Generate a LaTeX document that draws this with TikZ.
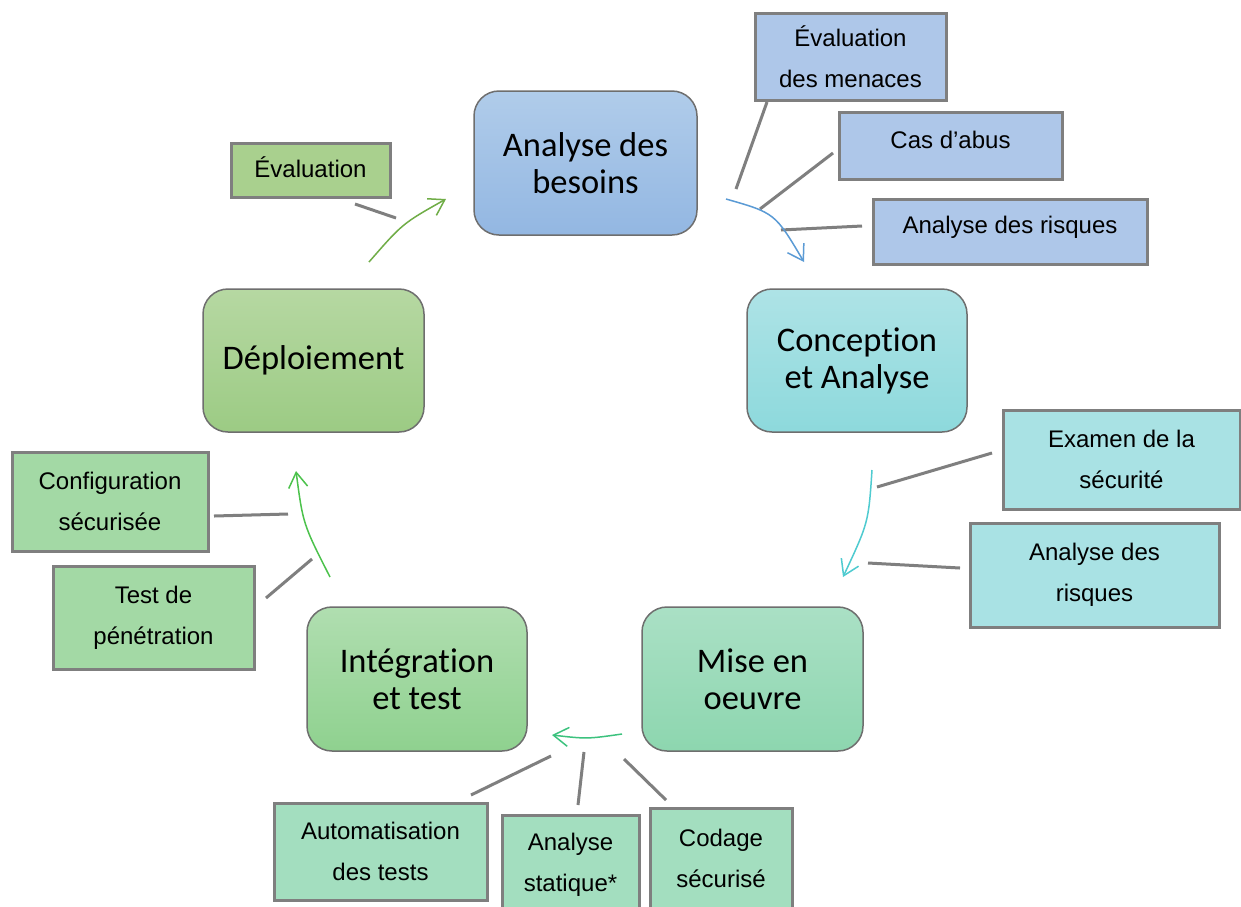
\documentclass[tikz,border=0pt]{standalone}
\usepackage{fontspec}
\setmainfont{Liberation Sans}
\newfontfamily\calib[Ligatures=NoCommon,RawFeature={-liga;-dlig;-clig}]{Carlito}
\usetikzlibrary{arrows.meta}
\definecolor{bordergray}{HTML}{7F7F7F}
\definecolor{mainborder}{HTML}{6E6E6E}
\definecolor{sblue}{HTML}{AEC7E9}
\definecolor{steal}{HTML}{A9E2E4}
\definecolor{smint}{HTML}{A3DEBF}
\definecolor{sgreen}{HTML}{A3D9A5}
\definecolor{sevgreen}{HTML}{A9D08E}
\definecolor{arblue}{HTML}{5B9BD5}
\definecolor{arcyan}{HTML}{4FCBD0}
\definecolor{armint}{HTML}{3CC27E}
\definecolor{argreen}{HTML}{4CC24C}
\definecolor{arlgreen}{HTML}{70AD47}
\tikzset{
  mainbox/.style={draw=mainborder, line width=1.5pt, rounded corners=25pt,
    align=center, inner sep=0pt, font=\calib\fontsize{34.5}{37}\selectfont},
  smallbox/.style={draw=bordergray, line width=3pt, inner sep=0pt,
    align=center, font=\fontsize{24}{41}\selectfont},
  link/.style={draw=bordergray, line width=3pt},
  cyclearrow/.style={line width=1.5pt, -{Straight Barb[length=15pt,width=19pt]}}
}
\begin{document}
\begin{tikzpicture}[x=1pt,y=-1pt]
\useasboundingbox (0,0) rectangle (1241,906);
\clip (0,0) rectangle (1241,906);
\fill[white] (0,0) rectangle (1241,906);

% main boxes
\node[mainbox, top color={rgb,255:red,176;green,204;blue,234}, bottom color={rgb,255:red,147;green,183;blue,226},
  minimum width=223pt, minimum height=144pt] (besoins) at (585.5,163) {Analyse des\\besoins};
\node[mainbox, top color={rgb,255:red,174;green,227;blue,230}, bottom color={rgb,255:red,141;green,217;blue,220},
  minimum width=220pt, minimum height=143pt] (conception) at (857,360.5) {Conception\\et Analyse};
\node[mainbox, top color={rgb,255:red,170;green,224;blue,197}, bottom color={rgb,255:red,141;green,214;blue,175},
  minimum width=221pt, minimum height=144pt] (mise) at (752.5,679) {Mise en\\oeuvre};
\node[mainbox, top color={rgb,255:red,176;green,222;blue,176}, bottom color={rgb,255:red,143;green,209;blue,143},
  minimum width=220pt, minimum height=144pt] (integ) at (417,679) {Intégration\\et test};
\node[mainbox, top color={rgb,255:red,182;green,216;blue,162}, bottom color={rgb,255:red,156;green,203;blue,132},
  minimum width=221pt, minimum height=143pt] (deploi) at (313.5,360.5) {Déploiement};

% small boxes
\node[smallbox, fill=sblue, minimum width=191pt, minimum height=87pt] (menaces) at (850.5,56.5) {Évaluation\\des menaces};
\node[smallbox, fill=sblue, minimum width=223pt, minimum height=67pt, text depth=12pt] (abus) at (950.5,145.5) {Cas d’abus};
\node[smallbox, fill=sblue, minimum width=274pt, minimum height=65pt, text depth=13pt] (risquesA) at (1010,231.5) {Analyse des risques};
\node[smallbox, fill=steal, minimum width=237pt, minimum height=99pt] (examen) at (1121.5,459.5) {Examen de la\\sécurité};
\node[smallbox, fill=steal, minimum width=249pt, minimum height=104pt] (risquesB) at (1094.5,575) {Analyse des\\risques};
\node[smallbox, fill=smint, minimum width=213pt, minimum height=97pt] (auto) at (380.5,851.5) {Automatisation\\des tests};
\node[smallbox, fill=smint, minimum width=137pt, minimum height=100pt] (statique) at (570.5,865) {Analyse\\statique*};
\node[smallbox, fill=smint, minimum width=142pt, minimum height=100pt] (codage) at (721,858) {Codage\\sécurisé};
\node[smallbox, fill=sgreen, minimum width=201pt, minimum height=103pt] (test) at (153.5,617.5) {Test de\\pénétration};
\node[smallbox, fill=sgreen, minimum width=196pt, minimum height=99pt] (config) at (110,501.5) {Configuration\\sécurisée};
\node[smallbox, fill=sevgreen, minimum width=159pt, minimum height=54pt, text depth=6pt] (evalu) at (310.5,170) {Évaluation};

% connector end points
\coordinate (mA) at (736,189); \coordinate (mB) at (767,102);
\coordinate (aA) at (760,209); \coordinate (aB) at (833,153);
\coordinate (rA) at (781,230); \coordinate (rB) at (862,226);
\coordinate (eA) at (877,487); \coordinate (eB) at (992,453);
\coordinate (qA) at (868,563); \coordinate (qB) at (960,568);
\coordinate (cA) at (624,759); \coordinate (cB) at (666,800);
\coordinate (sA) at (584,752); \coordinate (sB) at (578,805);
\coordinate (tA) at (551,756); \coordinate (tB) at (471,795);
\coordinate (pA) at (312,559); \coordinate (pB) at (266,598);
\coordinate (gA) at (288,514); \coordinate (gB) at (214,516);
\coordinate (vA) at (396,218); \coordinate (vB) at (355,204);

\draw[link] (mA) -- (mB);
\draw[link] (aA) -- (aB);
\draw[link] (rA) -- (rB);
\draw[link] (eA) -- (eB);
\draw[link] (qA) -- (qB);
\draw[link] (cA) -- (cB);
\draw[link] (sA) -- (sB);
\draw[link] (tA) -- (tB);
\draw[link] (pA) -- (pB);
\draw[link] (gA) -- (gB);
\draw[link] (vA) -- (vB);

% cycle arrows
\coordinate (b1) at (726,199); \coordinate (b2) at (804,262);
\coordinate (c1) at (872,470); \coordinate (c2) at (843,577);
\coordinate (m1) at (622,734); \coordinate (m2) at (552,735);
\coordinate (i1) at (330,577); \coordinate (i2) at (296,471);
\coordinate (d1) at (369,262); \coordinate (d2) at (446,199);

\draw[cyclearrow, arblue] (b1) .. controls (775,213) .. (b2);
\draw[cyclearrow, arcyan] (c1) .. controls (868.5,522.5) .. (c2);
\draw[cyclearrow, armint] (m1) .. controls (587,739) .. (m2);
\draw[cyclearrow, argreen] (i1) .. controls (303,524) .. (i2);
\draw[cyclearrow, arlgreen] (d1) .. controls (402.5,223.5) .. (d2);
\end{tikzpicture}
\end{document}
